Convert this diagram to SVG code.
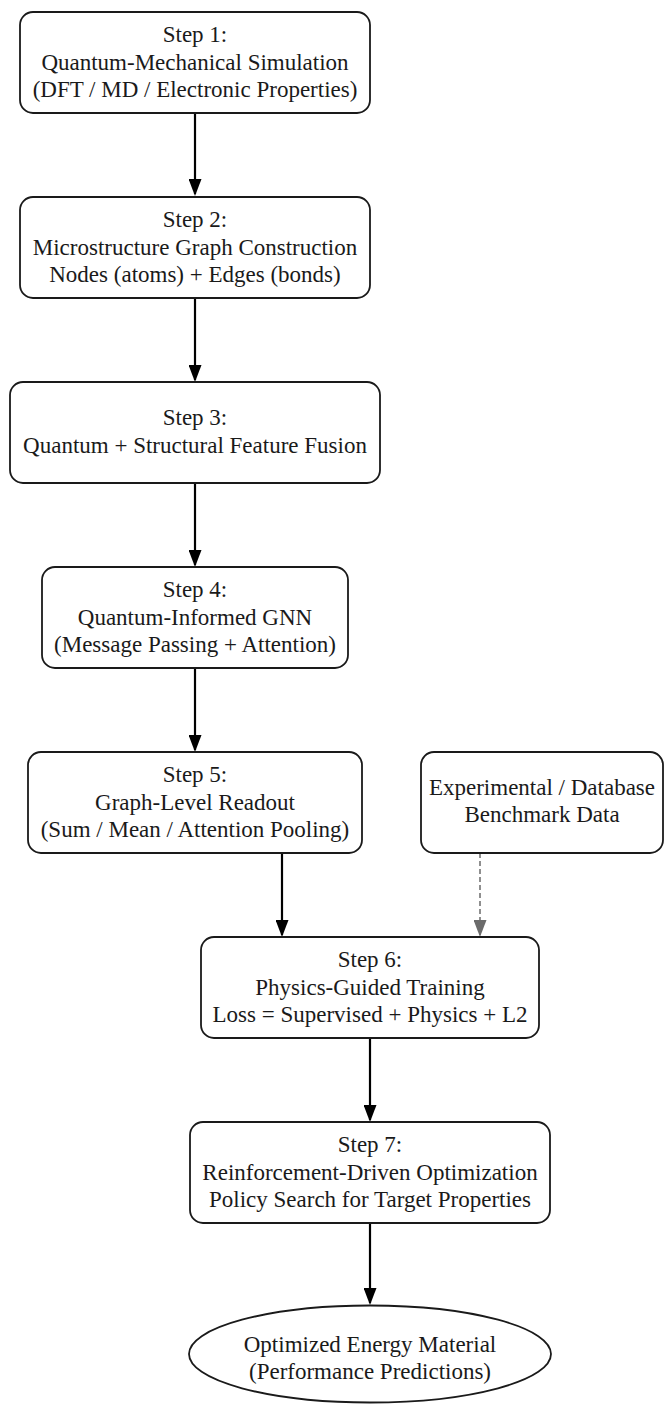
<svg xmlns="http://www.w3.org/2000/svg" width="664" height="1404" viewBox="0 0 664 1404">
  <style>
    .box { fill: #ffffff; stroke: #1a1a1a; stroke-width: 1.8; }
    .lbl { font-family: "Liberation Serif", "Times New Roman", serif; font-size: 23px; fill: #1a1a1a; text-anchor: middle; }
    .edge { stroke: #000000; stroke-width: 2.2; fill: none; }
    .dash { stroke: #6b6b6b; stroke-width: 1.5; stroke-dasharray: 5 3; fill: none; }
  </style>
  <defs>
    <marker id="ah" markerUnits="userSpaceOnUse" markerWidth="17" markerHeight="13" refX="15" refY="6.5" orient="auto">
      <path d="M0,0 L17,6.5 L0,13 z" fill="#000000"/>
    </marker>
    <marker id="ahg" markerUnits="userSpaceOnUse" markerWidth="17" markerHeight="13" refX="15" refY="6.5" orient="auto">
      <path d="M0,0 L17,6.5 L0,13 z" fill="#6b6b6b"/>
    </marker>
  </defs>
  <rect width="664" height="1404" fill="#ffffff"/>

  <g id="connectors">
    <line class="edge" x1="195" y1="113" x2="195" y2="194" marker-end="url(#ah)"/>
    <line class="edge" x1="195" y1="298" x2="195" y2="380" marker-end="url(#ah)"/>
    <line class="edge" x1="195" y1="483" x2="195" y2="565" marker-end="url(#ah)"/>
    <line class="edge" x1="195" y1="668" x2="195" y2="750" marker-end="url(#ah)"/>
    <line class="edge" x1="282" y1="853" x2="282" y2="935" marker-end="url(#ah)"/>
    <line class="dash" x1="480" y1="853" x2="480" y2="935" marker-end="url(#ahg)"/>
    <line class="edge" x1="370" y1="1038" x2="370" y2="1120" marker-end="url(#ah)"/>
    <line class="edge" x1="370" y1="1223" x2="370" y2="1303" marker-end="url(#ah)"/>
  </g>

  <g id="step1">
    <rect class="box" x="20" y="12" width="350" height="101" rx="13"/>
    <text class="lbl" x="195" y="42">Step 1:</text>
    <text class="lbl" x="195" y="70">Quantum-Mechanical Simulation</text>
    <text class="lbl" x="195" y="97">(DFT / MD / Electronic Properties)</text>
  </g>

  <g id="step2">
    <rect class="box" x="20" y="197" width="350" height="101" rx="13"/>
    <text class="lbl" x="195" y="227">Step 2:</text>
    <text class="lbl" x="195" y="255">Microstructure Graph Construction</text>
    <text class="lbl" x="195" y="282">Nodes (atoms) + Edges (bonds)</text>
  </g>

  <g id="step3">
    <rect class="box" x="10" y="382" width="370" height="101" rx="13"/>
    <text class="lbl" x="195" y="425">Step 3:</text>
    <text class="lbl" x="195" y="453">Quantum + Structural Feature Fusion</text>
  </g>

  <g id="step4">
    <rect class="box" x="42" y="567" width="306" height="101" rx="13"/>
    <text class="lbl" x="195" y="597">Step 4:</text>
    <text class="lbl" x="195" y="625">Quantum-Informed GNN</text>
    <text class="lbl" x="195" y="652">(Message Passing + Attention)</text>
  </g>

  <g id="step5">
    <rect class="box" x="28" y="752" width="334" height="101" rx="13"/>
    <text class="lbl" x="195" y="782">Step 5:</text>
    <text class="lbl" x="195" y="810">Graph-Level Readout</text>
    <text class="lbl" x="195" y="837">(Sum / Mean / Attention Pooling)</text>
  </g>

  <g id="benchmark">
    <rect class="box" x="421" y="752" width="242" height="101" rx="13"/>
    <text class="lbl" x="542" y="795">Experimental / Database</text>
    <text class="lbl" x="542" y="822">Benchmark Data</text>
  </g>

  <g id="step6">
    <rect class="box" x="201" y="937" width="338" height="101" rx="13"/>
    <text class="lbl" x="370" y="967">Step 6:</text>
    <text class="lbl" x="370" y="995">Physics-Guided Training</text>
    <text class="lbl" x="370" y="1022">Loss = Supervised + Physics + L2</text>
  </g>

  <g id="step7">
    <rect class="box" x="190" y="1122" width="360" height="101" rx="13"/>
    <text class="lbl" x="370" y="1152">Step 7:</text>
    <text class="lbl" x="370" y="1180">Reinforcement-Driven Optimization</text>
    <text class="lbl" x="370" y="1207">Policy Search for Target Properties</text>
  </g>

  <g id="output">
    <ellipse class="box" cx="370" cy="1354" rx="181" ry="48.5"/>
    <text class="lbl" x="370" y="1352">Optimized Energy Material</text>
    <text class="lbl" x="370" y="1379">(Performance Predictions)</text>
  </g>
</svg>
